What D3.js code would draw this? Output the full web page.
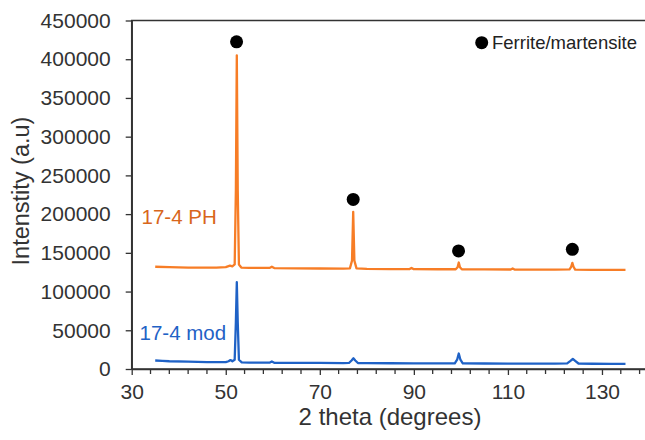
<!DOCTYPE html>
<html>
<head>
<meta charset="utf-8">
<script src="https://cdn.jsdelivr.net/npm/d3@7"></script>
<style>
  html, body { margin: 0; padding: 0; background: #fff; }
  svg { display: block; font-family: "Liberation Sans", Arial, sans-serif; }
</style>
</head>
<body>
<svg id="chart" width="645" height="440"></svg>
<script>
// XRD scans: 2-theta (degrees) vs intensity (a.u.)
const phTheta = [35, 38, 42, 46, 48, 50, 50.9, 51.4, 51.9, 52.15, 52.35, 52.55, 52.8, 53.3, 55, 59.3, 59.8, 60.3, 65, 70, 75, 76.4, 76.85, 77.1, 77.35, 77.8, 80, 85, 89.1, 89.5, 89.9, 95, 98.9, 99.3, 99.55, 99.8, 100.2, 105, 110.6, 111, 111.4, 116, 120, 123.1, 123.45, 123.7, 123.95, 124.3, 128, 132, 135];
const phIntensity = [132000, 131500, 131000, 131000, 131000, 131500, 133500, 132500, 135000, 230000, 405000, 230000, 135000, 131000, 130500, 130500, 132000, 130300, 130000, 129800, 129500, 130000, 140000, 203000, 140000, 130000, 129300, 129000, 129000, 130500, 129000, 128800, 128800, 131500, 137500, 131500, 128700, 128600, 128500, 129800, 128400, 128300, 128200, 128600, 132000, 137000, 132000, 128400, 128000, 128000, 128000];

const modTheta = [35, 36.5, 38, 42, 46, 48, 50, 50.6, 51.0, 51.4, 51.9, 52.15, 52.35, 52.55, 52.8, 53.4, 55, 59.3, 59.8, 60.3, 65, 70, 75, 76.2, 76.75, 77.15, 77.55, 78.1, 80, 85, 90, 95, 98.7, 99.2, 99.55, 99.9, 100.4, 105, 110, 115, 120, 122.6, 123.3, 123.8, 124.3, 125.0, 128, 132, 135];
const modIntensity = [11000, 10500, 10000, 9500, 9000, 8800, 8800, 10000, 11500, 10000, 12000, 60000, 112000, 60000, 12000, 8500, 8200, 8200, 9800, 8100, 8000, 7800, 7600, 7800, 11000, 13800, 11000, 7700, 7500, 7400, 7300, 7200, 7300, 12000, 20000, 12000, 7200, 7100, 7000, 7000, 6900, 7200, 10500, 13000, 10500, 7100, 6800, 6700, 6600];

// Ferrite/martensite reflections marked above the 17-4 PH peaks
const markTheta = [52.3, 77.1, 99.5, 123.7];
const markIntensity = [422500, 219000, 152500, 154500];

const xTickValues = [30, 50, 70, 90, 110, 130];
const yTickValues = [0, 50000, 100000, 150000, 200000, 250000, 300000, 350000, 400000, 450000];

const svg = d3.select("#chart");
const x = d3.scaleLinear().domain([30, 140]).range([131.7, 649]);
const y = d3.scaleLinear().domain([0, 450000]).range([369, 20.5]);
const axisColor = "#333";
const textColor = "#333";

// plot frame (top and right edges)
svg.append("rect")
  .attr("x", x(30)).attr("y", y(450000))
  .attr("width", x(140) - x(30)).attr("height", y(0) - y(450000))
  .attr("fill", "none").attr("stroke", axisColor).attr("stroke-width", 1.5);

// minor x ticks every 4 degrees
const minorX = d3.range(34, 141, 4).filter(v => (v - 30) % 20 !== 0);
svg.append("g").selectAll("line").data(minorX).join("line")
  .attr("x1", d => x(d)).attr("x2", d => x(d))
  .attr("y1", y(0)).attr("y2", y(0) + 5)
  .attr("stroke", axisColor).attr("stroke-width", 1.3);

// x axis
const xAxis = svg.append("g")
  .attr("transform", `translate(0,${y(0)})`)
  .call(d3.axisBottom(x).tickValues(xTickValues).tickSize(6).tickSizeOuter(0).tickPadding(9));
xAxis.select(".domain").attr("stroke", axisColor).attr("stroke-width", 1.5);
xAxis.selectAll(".tick line").attr("stroke", axisColor).attr("stroke-width", 1.3);
xAxis.selectAll(".tick text").attr("fill", textColor).attr("font-size", 21).attr("font-family", "Liberation Sans, Arial, sans-serif");

// y axis
const yAxis = svg.append("g")
  .attr("transform", `translate(${x(30)},0)`)
  .call(d3.axisLeft(y).tickValues(yTickValues).tickFormat(d3.format("d")).tickSize(6).tickSizeOuter(0).tickPadding(15));
yAxis.select(".domain").attr("stroke", axisColor).attr("stroke-width", 1.5);
yAxis.selectAll(".tick line").attr("stroke", axisColor).attr("stroke-width", 1.3);
yAxis.selectAll(".tick text").attr("fill", textColor).attr("font-size", 21).attr("font-family", "Liberation Sans, Arial, sans-serif");

// axis titles
svg.append("text")
  .attr("x", 390).attr("y", 425)
  .attr("text-anchor", "middle").attr("font-size", 24).attr("fill", textColor)
  .text("2 theta (degrees)");
svg.append("text")
  .attr("transform", "translate(28.5,191) rotate(-90)")
  .attr("text-anchor", "middle").attr("font-size", 23.5).attr("fill", textColor)
  .text("Intenstity (a.u)");

// scans
const line = d3.line().x(d => x(d[0])).y(d => y(d[1]));
svg.append("path")
  .datum(d3.zip(modTheta, modIntensity))
  .attr("d", line).attr("fill", "none")
  .attr("stroke", "#1f62c6").attr("stroke-width", 2.3).attr("stroke-linejoin", "round");
svg.append("path")
  .datum(d3.zip(phTheta, phIntensity))
  .attr("d", line).attr("fill", "none")
  .attr("stroke", "#f77d26").attr("stroke-width", 2.3).attr("stroke-linejoin", "round");

// phase markers
svg.append("g").selectAll("circle").data(d3.zip(markTheta, markIntensity)).join("circle")
  .attr("cx", d => x(d[0])).attr("cy", d => y(d[1])).attr("r", 6.5).attr("fill", "#000");

// legend
svg.append("circle").attr("cx", 481.7).attr("cy", 42.7).attr("r", 6.5).attr("fill", "#000");
svg.append("text").attr("x", 492).attr("y", 49).attr("font-size", 18.5).attr("fill", "#222")
  .text("Ferrite/martensite");

// series labels
svg.append("text").attr("x", 141.5).attr("y", 224).attr("font-size", 20.5).attr("fill", "#d8661c")
  .text("17-4 PH");
svg.append("text").attr("x", 139.5).attr("y", 340).attr("font-size", 20.5).attr("fill", "#1f62c6")
  .text("17-4 mod");
</script>
</body>
</html>
